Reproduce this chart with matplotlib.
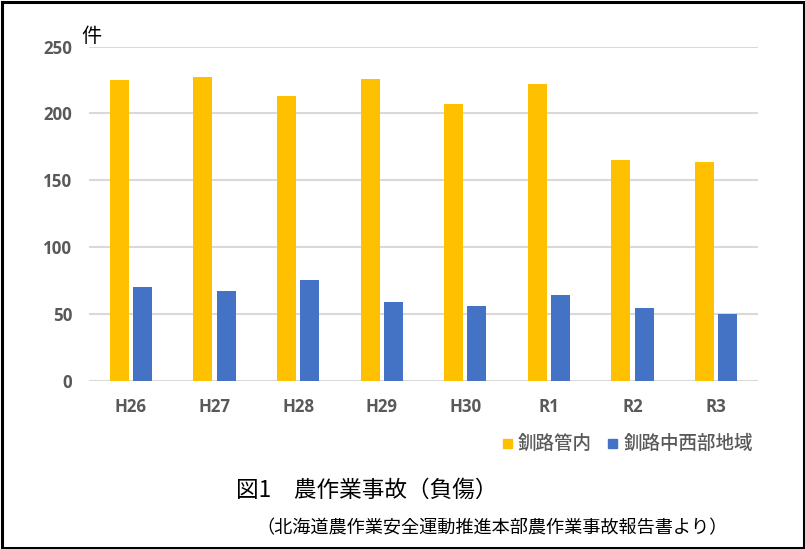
import matplotlib
matplotlib.use("Agg")
import matplotlib.pyplot as plt
from matplotlib.patches import Rectangle
import numpy as np

categories = ["H26", "H27", "H28", "H29", "H30", "R1", "R2", "R3"]
kushiro_kannai = [225, 227, 213, 226, 207, 222, 165, 164]
kushiro_chuseibu = [70, 67, 75, 59, 56, 64, 54, 50]
series_names = ["釧路管内", "釧路中西部地域"]
yticks = [0, 50, 100, 150, 200, 250]

CJK = ["Noto Sans CJK JP", "DejaVu Sans"]
GRAY = "#595959"
ORANGE = "#FFC000"
BLUE = "#4472C4"

fig = plt.figure(figsize=(8.05, 5.49), dpi=100)
ax = fig.add_axes([89/805, 1-380.5/549, (758-89)/805, (380.5-46.7)/549])

x = np.arange(len(categories))
w = 0.227
off = 0.139
ax.bar(x - off, kushiro_kannai, width=w, color=ORANGE, zorder=3)
ax.bar(x + off, kushiro_chuseibu, width=w, color=BLUE, zorder=3)

ax.set_xlim(-0.5, len(categories) - 0.5)
ax.set_ylim(0, 250)
ax.set_yticks(yticks)
ax.set_xticks(x)
ax.set_xticklabels(categories)
for s in ax.spines.values():
    s.set_visible(False)
ax.grid(axis="y", color="#d9d9d9", linewidth=1.5, zorder=0)
ax.tick_params(length=0, colors=GRAY)
ax.tick_params(axis="y", pad=12)
ax.tick_params(axis="x", pad=12.5)
for lab in ax.get_yticklabels() + ax.get_xticklabels():
    lab.set_fontfamily(["Open Sans", "DejaVu Sans"])
    lab.set_fontweight("bold")
    lab.set_fontsize(12.2)
    lab.set_color(GRAY)

# unit label
fig.text(91/805, 1-36/549, "件", family=CJK, fontsize=14.5, color="black",
         ha="center", va="center")

# legend (manual placement to match)
fig.patches.append(Rectangle((503/805, 1-448/549), 9/805, 9/549, transform=fig.transFigure,
                             color=ORANGE, figure=fig))
fig.text(518/805, 1-443.5/549, series_names[0], family=CJK, fontsize=13.3, color=GRAY,
         ha="left", va="center", fontweight="medium")
fig.patches.append(Rectangle((608/805, 1-448/549), 9/805, 9/549, transform=fig.transFigure,
                             color=BLUE, figure=fig))
fig.text(624/805, 1-443.5/549, series_names[1], family=CJK, fontsize=13.3, color=GRAY,
         ha="left", va="center", fontweight="medium")

# title and source
fig.text(236/805, 1-490/549, "図1　農作業事故（負傷）", family=CJK, fontsize=16.3,
         color="black", ha="left", va="center")
fig.text(256/805, 1-528/549, "（北海道農作業安全運動推進本部農作業事故報告書より）", family=CJK,
         fontsize=13.1, color="black", ha="left", va="center")

# black frame
fig.patches.append(Rectangle((1.5/805, 1.5/549), 802/805, 546/549, transform=fig.transFigure,
                             fill=False, edgecolor="black", linewidth=2.2, figure=fig))

fig.savefig("out.png", dpi=100)
